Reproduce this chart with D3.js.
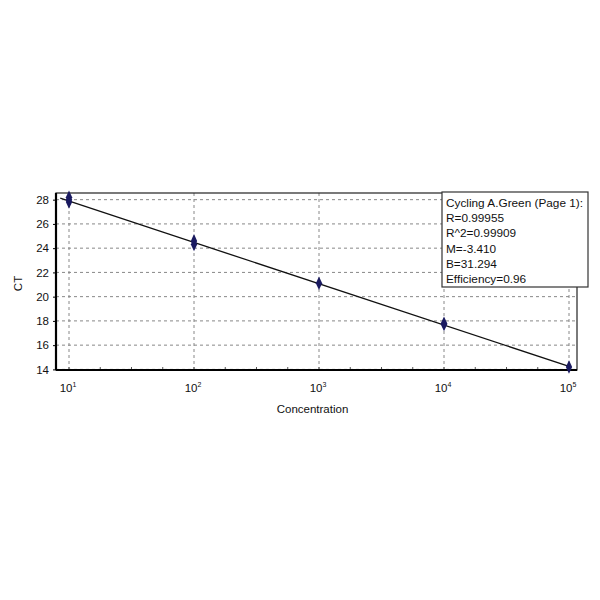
<!DOCTYPE html>
<html>
<head>
<meta charset="utf-8">
<script src="https://cdn.jsdelivr.net/npm/d3@7"></script>
<style>
  body { margin: 0; background: #fff; }
  svg { font-family: "Liberation Sans", Arial, sans-serif; }
</style>
</head>
<body>
<div id="chart"></div>
<script>
// data: log10 concentration and CT replicates
const exponents = [1, 2, 3, 4, 5];
const pointsX = [1, 1, 1, 2, 2, 3, 4, 4, 5];
const pointsCT = [27.8, 28.0, 28.2, 24.3, 24.6, 21.1, 17.7, 17.8, 14.2];
const yTicks = [14, 16, 18, 20, 22, 24, 26, 28];
const slope = -3.410;
const intercept = 31.294;
const fitRange = [0.93, 5];
const legendLines = ["Cycling A.Green (Page 1):", "R=0.99955", "R^2=0.99909", "M=-3.410", "B=31.294", "Efficiency=0.96"];

const MARGIN = { top: 193, right: 23, bottom: 230, left: 56 };
const WIDTH = 600 - MARGIN.left - MARGIN.right;
const HEIGHT = 600 - MARGIN.top - MARGIN.bottom;

const svg = d3.select("#chart").append("svg")
    .attr("width", 600).attr("height", 600);
const g = svg.append("g")
    .attr("transform", `translate(${MARGIN.left},${MARGIN.top})`);

const x = d3.scaleLinear().domain([0.896, 5.064]).range([0, WIDTH]);
const y = d3.scaleLinear().domain([13.95, 28.55]).range([HEIGHT, 0]);

// grid
g.selectAll(".hgrid").data(yTicks).enter().append("line")
    .attr("x1", 0).attr("x2", WIDTH)
    .attr("y1", d => y(d)).attr("y2", d => y(d))
    .attr("stroke", "#888").attr("stroke-dasharray", "3,3");
g.selectAll(".vgrid").data(exponents).enter().append("line")
    .attr("x1", d => x(d)).attr("x2", d => x(d))
    .attr("y1", 0).attr("y2", HEIGHT)
    .attr("stroke", "#888").attr("stroke-dasharray", "3,3");

// minor x ticks
const minor = d3.range(1, 5.01, 0.25);
g.selectAll(".minor").data(minor).enter().append("line")
    .attr("x1", d => x(d)).attr("x2", d => x(d))
    .attr("y1", HEIGHT).attr("y2", HEIGHT - 3)
    .attr("stroke", "#555");

// frame
g.append("rect").attr("width", WIDTH).attr("height", HEIGHT)
    .attr("fill", "none").attr("stroke", "#222").attr("stroke-width", 1.2);
g.append("line").attr("x1", 0).attr("x2", 0).attr("y1", 0).attr("y2", HEIGHT)
    .attr("stroke", "#000").attr("stroke-width", 2.2);
g.append("line").attr("x1", 0).attr("x2", WIDTH).attr("y1", HEIGHT).attr("y2", HEIGHT)
    .attr("stroke", "#000").attr("stroke-width", 2.2);

// y axis labels
const yAxis = g.append("g")
    .call(d3.axisLeft(y).tickValues(yTicks).tickSize(3).tickPadding(4));
yAxis.select(".domain").remove();
yAxis.selectAll("text").attr("font-size", 11.5).attr("fill", "#111")
    .attr("font-family", "Liberation Sans, Arial, sans-serif");

// x axis labels 10^n
const xl = g.selectAll(".xlab").data(exponents).enter().append("text")
    .attr("x", d => x(d) - 1)
    .attr("y", HEIGHT + 22)
    .attr("text-anchor", "middle")
    .attr("font-size", 11.5).attr("fill", "#111");
xl.append("tspan").text("10");
xl.append("tspan").attr("dy", -5).attr("font-size", 7).text(d => d);

// axis titles
g.append("text").attr("x", WIDTH / 2 - 4).attr("y", HEIGHT + 43)
    .attr("text-anchor", "middle").attr("font-size", 11.5).attr("fill", "#111")
    .text("Concentration");
g.append("text").attr("transform", `translate(-34,${HEIGHT / 2 + 2}) rotate(-90)`)
    .attr("text-anchor", "middle").attr("font-size", 11.5).attr("fill", "#111")
    .text("CT");

// fit line
g.append("line")
    .attr("x1", x(fitRange[0])).attr("y1", y(intercept + slope * fitRange[0]))
    .attr("x2", x(fitRange[1])).attr("y2", y(intercept + slope * fitRange[1]))
    .attr("stroke", "#111").attr("stroke-width", 1.3);

// points (diamonds)
const diamond = d3.symbol().type(d3.symbolDiamond).size(48);
g.selectAll(".pt").data(pointsX.map((d, i) => [d, pointsCT[i]])).enter()
    .append("path").attr("d", diamond)
    .attr("transform", d => `translate(${x(d[0])},${y(d[1])}) scale(0.85,1.05)`)
    .attr("fill", "#1a1a60");

// legend box
const lg = svg.append("g").attr("transform", "translate(442,192)");
lg.append("rect").attr("width", 146).attr("height", 95)
    .attr("fill", "#fff").attr("stroke", "#333").attr("stroke-width", 1.2);
lg.selectAll("text").data(legendLines).enter().append("text")
    .attr("x", 4).attr("y", (d, i) => 15 + i * 15.2)
    .attr("font-size", 11.8).attr("fill", "#111")
    .text(d => d);
</script>
</body>
</html>
